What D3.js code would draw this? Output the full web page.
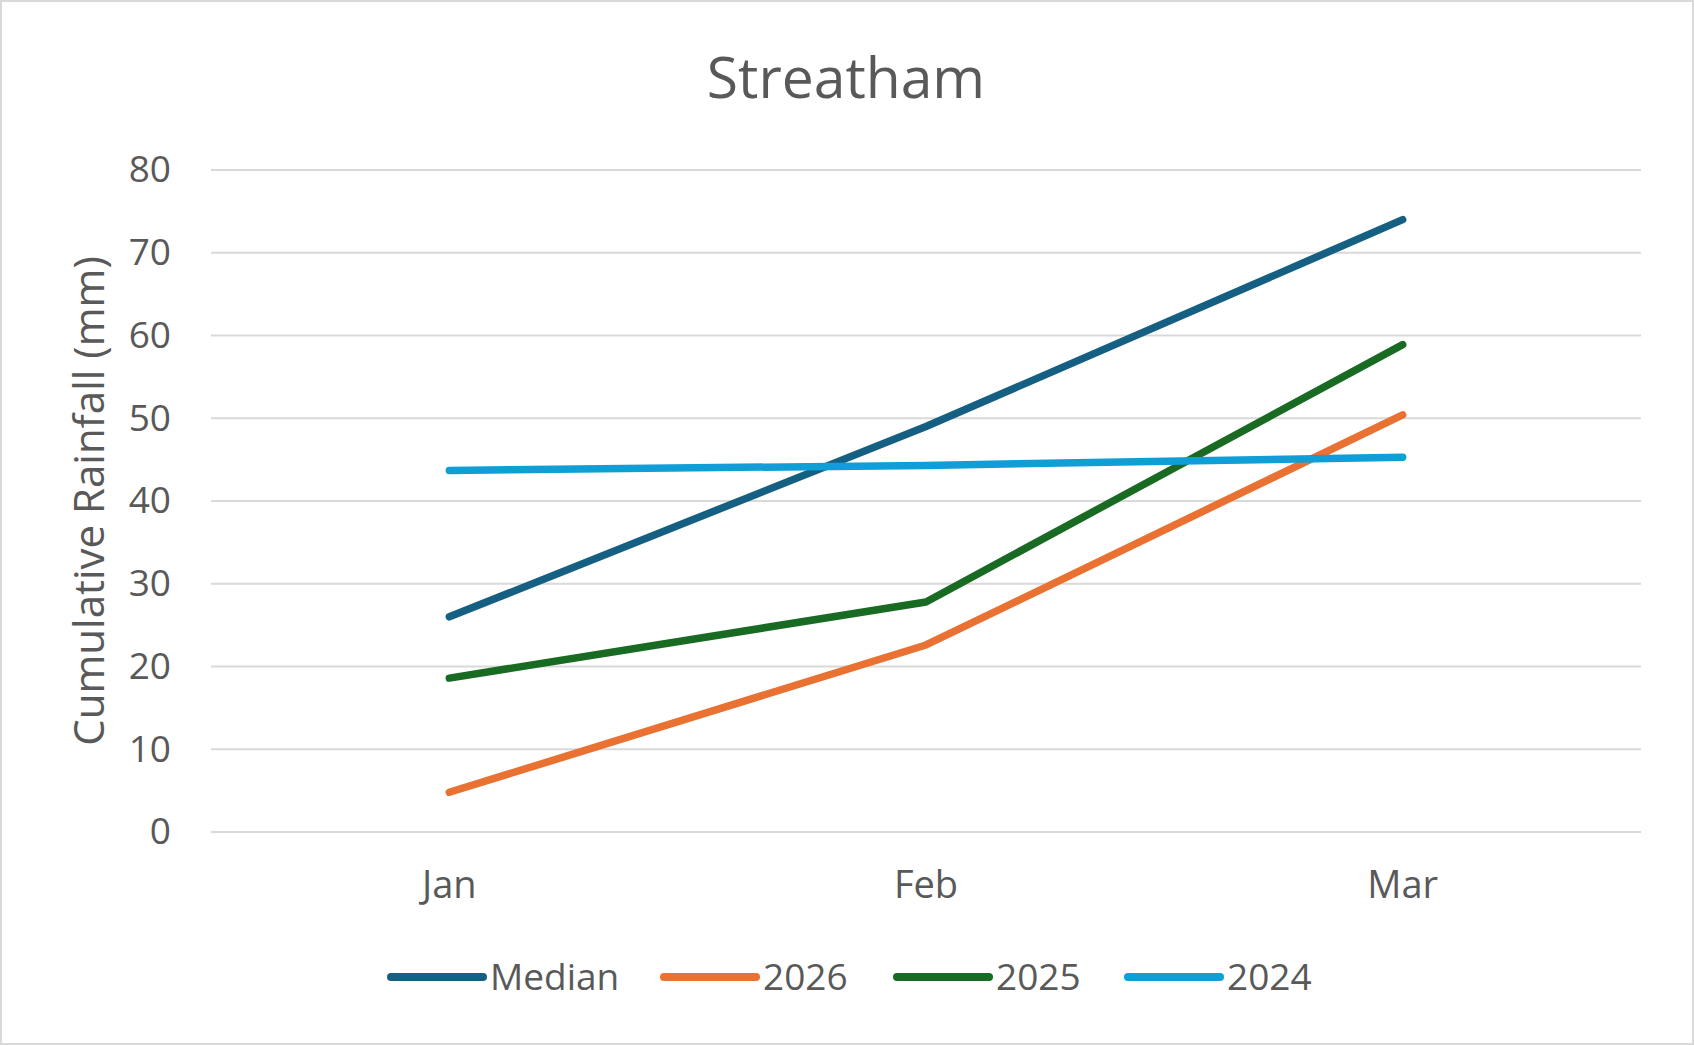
<!DOCTYPE html>
<meta charset="utf-8">
<style>
body { margin: 0; background: #fff; }
text { font-family: "Open Sans", sans-serif; fill: #595959; }
.grid line { stroke: #d9d9d9; stroke-width: 2; }
.series { fill: none; stroke-width: 7.5; stroke-linecap: round; stroke-linejoin: round; }
</style>
<svg width="1694" height="1045"></svg>
<script src="https://d3js.org/d3.v7.min.js"></script>
<script>

var months = ["Jan", "Feb", "Mar"];
var median = [26.0, 49.0, 74.0];
var y2026 = [4.8, 22.6, 50.4];
var y2025 = [18.6, 27.8, 58.9];
var y2024 = [43.7, 44.3, 45.3];
var yTicks = [0, 10, 20, 30, 40, 50, 60, 70, 80];

var series = [
  {name: "Median", values: median, color: "#156082"},
  {name: "2026", values: y2026, color: "#e97132"},
  {name: "2025", values: y2025, color: "#196b24"},
  {name: "2024", values: y2024, color: "#0f9ed5"}
];

var svg = d3.select("svg"),
    margin = {top: 170, right: 53, bottom: 213, left: 211},
    width = +svg.attr("width") - margin.left - margin.right,
    height = +svg.attr("height") - margin.top - margin.bottom;

// outer border
svg.append("rect")
    .attr("x", 1).attr("y", 1)
    .attr("width", 1692).attr("height", 1043)
    .attr("fill", "none")
    .attr("stroke", "#d9d9d9")
    .attr("stroke-width", 2);

var x = d3.scaleBand().domain(months).range([0, width]),
    y = d3.scaleLinear().domain([0, 80]).range([height, 0]);

var g = svg.append("g")
    .attr("transform", "translate(" + margin.left + "," + margin.top + ")");

svg.append("text")
    .attr("x", 846)
    .attr("y", 98)
    .attr("text-anchor", "middle")
    .style("font-size", "57px")
    .text("Streatham");

// gridlines
g.append("g")
    .attr("class", "grid")
    .selectAll("line")
    .data(yTicks)
    .enter().append("line")
      .attr("x1", 0)
      .attr("x2", width)
      .attr("y1", function(d) { return y(d); })
      .attr("y2", function(d) { return y(d); });

var yAxis = g.append("g")
    .call(d3.axisLeft(y).tickValues(yTicks).tickSize(0).tickPadding(40));
yAxis.select(".domain").remove();
yAxis.selectAll("text")
    .attr("fill", "#595959")
    .style("font-family", "Open Sans, sans-serif")
    .style("font-size", "37px");

var xAxis = g.append("g")
    .attr("transform", "translate(0," + height + ")")
    .call(d3.axisBottom(x).tickSize(0).tickPadding(39));
xAxis.select(".domain").remove();
xAxis.selectAll("text")
    .attr("fill", "#595959")
    .style("font-family", "Open Sans, sans-serif")
    .style("font-size", "38px");

svg.append("text")
    .attr("transform", "translate(104," + (margin.top + height / 2) + ") rotate(-90)")
    .attr("text-anchor", "middle")
    .style("font-size", "42px")
    .text("Cumulative Rainfall (mm)");

var line = d3.line()
    .x(function(d, i) { return x(months[i]) + x.bandwidth() / 2; })
    .y(function(d) { return y(d); });

g.selectAll(".series")
    .data(series)
    .enter().append("path")
      .attr("class", "series")
      .attr("stroke", function(d) { return d.color; })
      .attr("d", function(d) { return line(d.values); });

// legend
var legendX = [391, 664, 897, 1128];
var legend = svg.append("g")
    .selectAll("g")
    .data(series)
    .enter().append("g")
      .attr("transform", function(d, i) { return "translate(" + legendX[i] + ",977)"; });

legend.append("line")
    .attr("x1", 0).attr("x2", 92)
    .attr("stroke", function(d) { return d.color; })
    .attr("stroke-width", 8)
    .attr("stroke-linecap", "round");

legend.append("text")
    .attr("x", 99)
    .attr("dy", "0.35em")
    .style("font-size", "37px")
    .text(function(d) { return d.name; });

</script>
